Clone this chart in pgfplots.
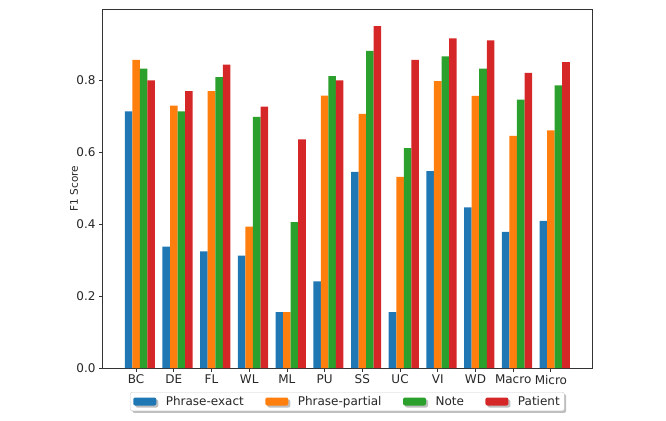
\documentclass[border=0pt]{standalone}
\usepackage{pgfplots}
\pgfplotsset{compat=1.18}
\usepackage{pgfplotstable}
\usepackage{fontspec}
\setmainfont{DejaVu Sans}
\usetikzlibrary{shadows}
\definecolor{tabblue}{HTML}{1F77B4}
\definecolor{taborange}{HTML}{FF7F0E}
\definecolor{tabgreen}{HTML}{2CA02C}
\definecolor{tabred}{HTML}{D62728}
\pgfplotstableread{
x pe pp note pat
0 0.713 0.856 0.832 0.799
1 0.337 0.729 0.713 0.769
2 0.324 0.769 0.808 0.843
3 0.312 0.393 0.698 0.726
4 0.155 0.155 0.405 0.635
5 0.241 0.757 0.811 0.799
6 0.545 0.706 0.881 0.950
7 0.155 0.531 0.611 0.856
8 0.547 0.797 0.866 0.916
9 0.446 0.756 0.832 0.910
10 0.378 0.645 0.746 0.820
11 0.409 0.660 0.785 0.850
}\data
\begin{document}
\begin{tikzpicture}
\begin{axis}[
  name=ax,
  scale only axis,
  width=489.5pt, height=359pt,
  xmin=-0.89, xmax=12.09,
  ymin=0, ymax=0.9975,
  ybar,
  bar width=0.2,
  xtick={0,...,11},
  xticklabels={BC,DE,FL,WL,ML,PU,SS,UC,VI,WD,Macro,Micro},
  ytick={0,0.2,0.4,0.6,0.8},
  yticklabel style={/pgf/number format/fixed,/pgf/number format/fixed zerofill,/pgf/number format/precision=1},
  /pgf/number format/assume math mode=true,
  tick pos=left,
  tick align=outside,
  major tick length=3.5pt,
  every tick/.style={black!80, line width=0.8pt},
  axis line style={black!80, line width=0.8pt},
  tick label style={font=\fontsize{12}{14}\selectfont, text=black!85},
  ylabel={F1 Score},
  ylabel style={font=\fontsize{10.5}{12}\selectfont, text=black!85, at={(axis description cs:0,0.5)}, anchor=center, rotate=0, yshift=28.5pt},
  every axis plot post/.append style={legend image code/.code={\fill[##1] (0pt,-4pt) rectangle (23pt,4pt);}},
  legend columns=4,
  legend style={at={(axis description cs:0.5,0)}, anchor=north, yshift=-24pt,
    font=\fontsize{12}{14}\selectfont, text=black!85,
    draw=black!20, fill=white, rounded corners=2pt,
    drop shadow={shadow xshift=2pt, shadow yshift=-2pt, fill=black!50, opacity=0.5},
    inner xsep=3pt, inner ysep=2.5pt,
    nodes={inner sep=1.5pt},
    /tikz/every odd column/.append style={column sep=8pt},
    /tikz/every even column/.append style={column sep=20pt}},
  legend cell align=left,
]
\addplot[fill=tabblue, draw=none, bar shift=-0.2] table[x=x,y=pe]{\data};
\addplot[fill=taborange, draw=none, bar shift=0] table[x=x,y=pp]{\data};
\addplot[fill=tabgreen, draw=none, bar shift=0.2] table[x=x,y=note]{\data};
\addplot[fill=tabred, draw=none, bar shift=0.4] table[x=x,y=pat]{\data};
\legend{Phrase-exact,Phrase-partial,Note,Patient}
\end{axis}
\path ([shift={(-102.5pt,-52pt)}]ax.south west) rectangle ([shift={(74pt,9pt)}]ax.north east);
\end{tikzpicture}
\end{document}
